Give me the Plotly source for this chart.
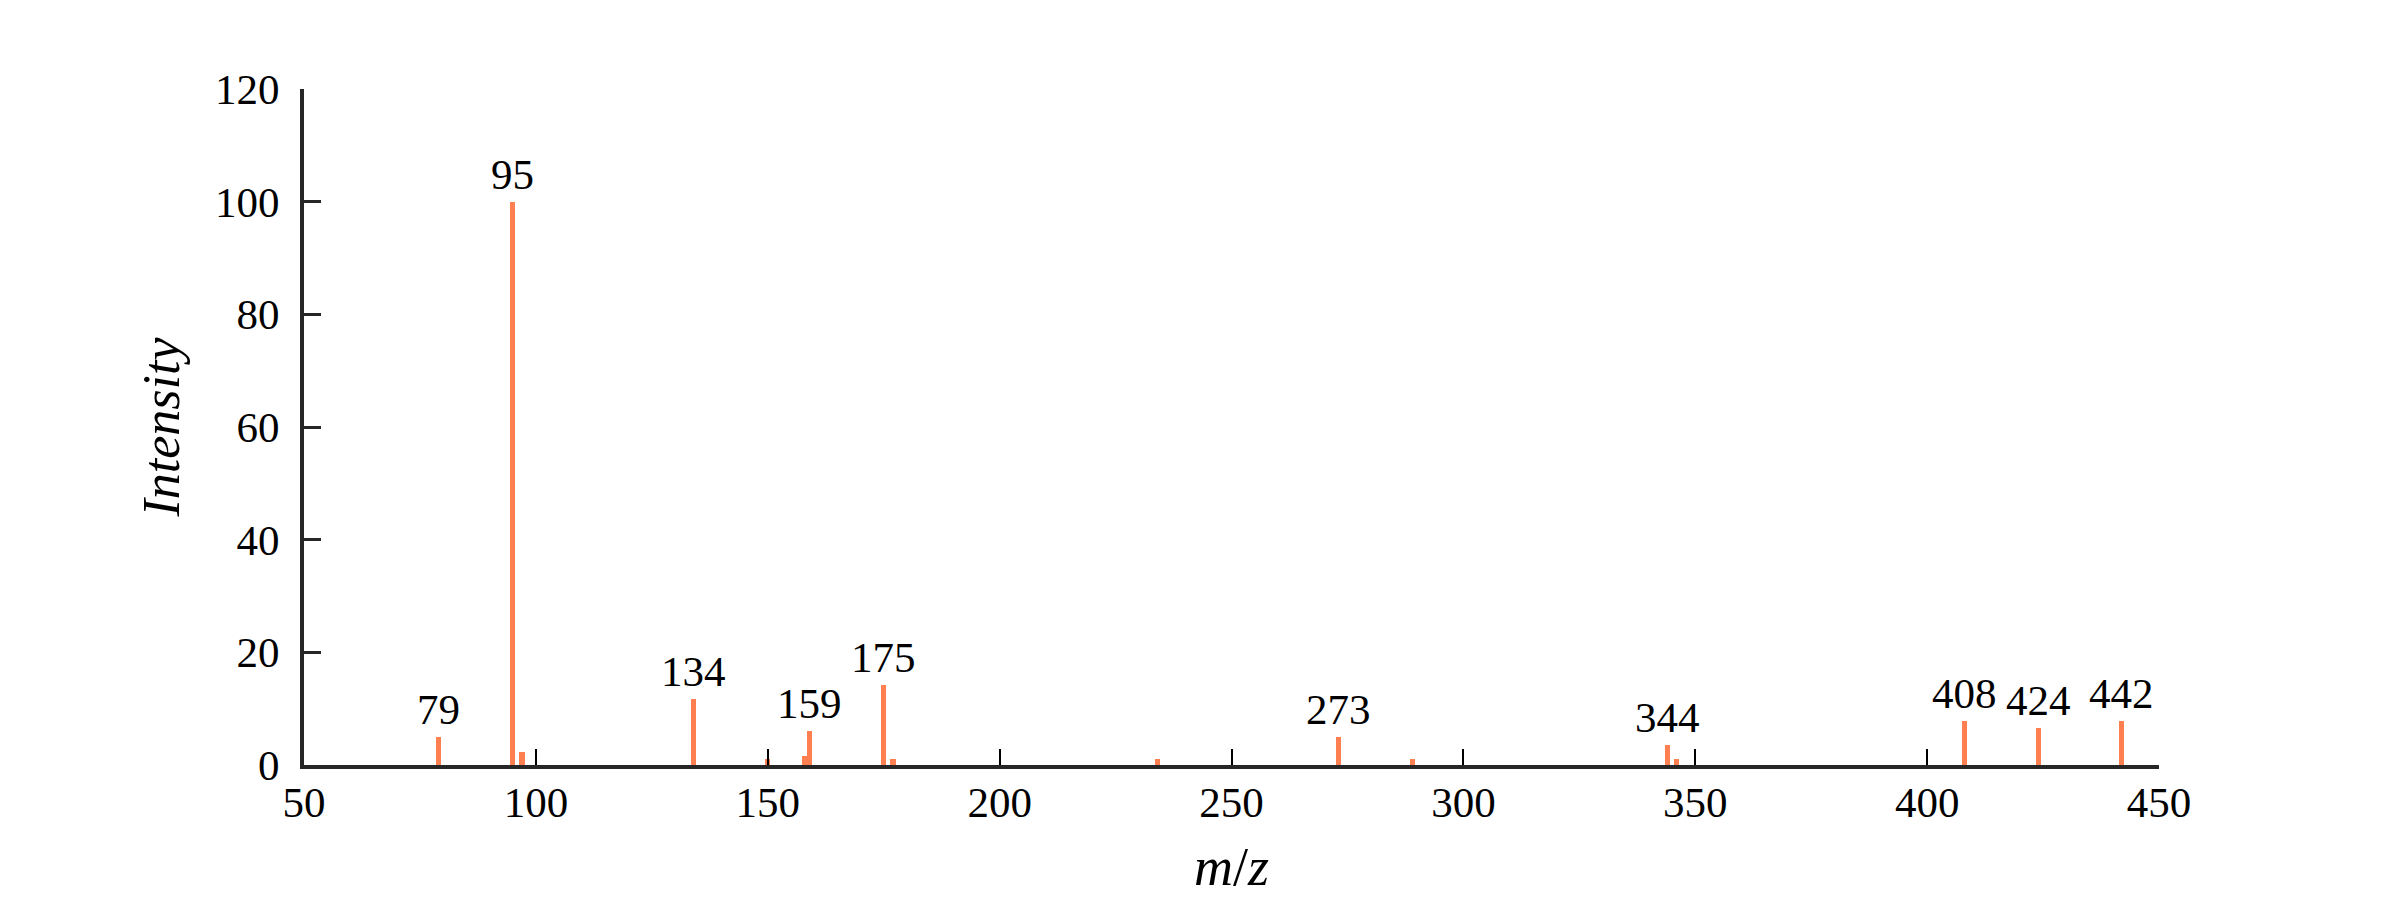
import plotly.graph_objects as go

# Peak list (m/z, relative intensity)
mz = [79, 95, 97, 134, 150, 158, 159, 175, 177, 234, 273, 289, 344, 346, 408, 424, 442]
intensity = [4.9, 100, 2.3, 11.7, 1.1, 1.6, 6.1, 14.2, 1.1, 1.1, 4.9, 1.1, 3.6, 1.1, 7.9, 6.6, 7.9]

# Peaks that carry a text label
labeled_mz = [79, 95, 134, 159, 175, 273, 344, 408, 424, 442]

x_ticks = [50, 100, 150, 200, 250, 300, 350, 400, 450]
y_ticks = [0, 20, 40, 60, 80, 100, 120]

FONT = "Liberation Serif"
AX = "#262626"

fig = go.Figure()
fig.add_trace(go.Bar(
    x=mz, y=intensity, width=1.1,
    marker=dict(color="#FF7F50", line=dict(width=0)),
    showlegend=False,
))

lookup = dict(zip(mz, intensity))
for m in labeled_mz:
    fig.add_annotation(
        x=m, y=lookup[m], xref="x", yref="y",
        text=str(m), showarrow=False,
        yanchor="bottom", xanchor="center", yshift=2,
        font=dict(family=FONT, size=43, color="black"),
    )

fig.update_layout(
    width=2400, height=900,
    margin=dict(l=296, r=249, t=81, b=143, autoexpand=False),
    paper_bgcolor="white", plot_bgcolor="white",
    bargap=0,
    font=dict(family=FONT, size=43, color="black"),
)

fig.update_xaxes(
    range=[50, 450], tickmode="array", tickvals=x_ticks,
    ticktext=[str(v) for v in x_ticks],
    showgrid=False, zeroline=False,
    showline=True, linecolor=AX, linewidth=4,
    ticks="inside", ticklen=16, tickwidth=2, tickcolor="black",
    tickfont=dict(family=FONT, size=43, color="black"),
    ticklabelstandoff=-4,
    title=dict(text="<i>m</i>/<i>z</i>", font=dict(family=FONT, size=54, color="black"), standoff=24),
    automargin=False,
)
fig.update_yaxes(
    range=[0, 120], tickmode="array", tickvals=y_ticks,
    ticktext=[str(v) for v in y_ticks],
    showgrid=False, zeroline=False,
    showline=True, linecolor=AX, linewidth=4,
    ticks="inside", ticklen=17, tickwidth=2.5, tickcolor=AX,
    tickfont=dict(family=FONT, size=43, color="black"),
    ticklabelstandoff=12,
    title=dict(text="<i>Intensity</i>", font=dict(family=FONT, size=52, color="black"), standoff=20),
    automargin=False,
)

fig.write_html("out.html")
